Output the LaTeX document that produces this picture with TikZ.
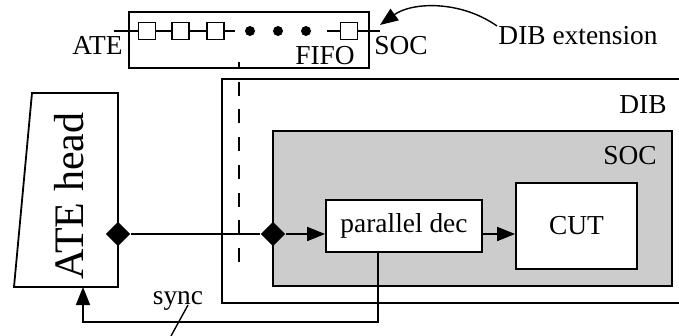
\documentclass[tikz,border=0pt]{standalone}
\usepackage{fontspec}
\setmainfont{Liberation Serif}
\usetikzlibrary{arrows.meta,shapes.geometric}
\begin{document}
\begin{tikzpicture}[x=1pt,y=-1pt,
  line width=1.8pt,
  lbl/.style={inner sep=0pt, font=\fontsize{27.4}{32}\selectfont},
  bigl/.style={inner sep=0pt, font=\fontsize{42}{46}\selectfont},
  box/.style={draw, inner sep=0pt, line width=1.8pt, font=\fontsize{27.4}{32}\selectfont},
  cell/.style={draw, minimum size=17pt, inner sep=0pt, line width=1.3pt, fill=white},
  dotnode/.style={circle, fill, minimum size=10pt, inner sep=0pt},
  junction/.style={diamond, fill, minimum size=25pt, inner sep=0pt},
  tip/.style={-{Triangle[length=18pt,width=14pt]}},
  thinl/.style={line width=1.4pt},
]
\useasboundingbox (0,0) rectangle (679,336);

% DIB board (open to the right)
\coordinate (dibtr) at (679,79);
\coordinate (dibtl) at (222,79);
\coordinate (dibbl) at (222,303);
\coordinate (dibbr) at (679,303);
\draw (dibtr) -- (dibtl) -- (dibbl) -- (dibbr);
\node[lbl, anchor=base] (diblbl) at (643,114) {DIB};

% SOC
\node[box, fill=black!20, minimum width=399pt, minimum height=155pt] (soc) at (472.5,208.5) {};
\node[lbl, anchor=base] (soclbl) at (630,165) {SOC};

% parallel dec and CUT
\node[box, fill=white, minimum width=156pt, minimum height=52pt] (pd) at (404,226) {parallel dec};
\node[box, fill=white, minimum width=121pt, minimum height=86pt] (cut) at (576.5,226) {CUT};

% FIFO extension
\node[box, thinl, minimum width=240pt, minimum height=56pt] (fifo) at (249,40) {};
\coordinate (fifol) at (114,31);
\node[cell] (c1) at (147,31) {};
\node[cell] (c2) at (180.5,31) {};
\node[cell] (c3) at (215.5,31) {};
\coordinate (c3r) at (235,31);
\node[dotnode] (k1) at (250,31) {};
\node[dotnode] (k2) at (278,31) {};
\node[dotnode] (k3) at (306,31) {};
\coordinate (c4l) at (327,31);
\node[cell] (c4) at (349,31) {};
\coordinate (fifor) at (380,31);
\draw[thinl] (fifol) -- (c1.west);
\draw[thinl] (c1.east) -- (c2.west);
\draw[thinl] (c2.east) -- (c3.west);
\draw[thinl] (c3.east) -- (c3r);
\draw[thinl] (c4l) -- (c4.west);
\draw[thinl] (c4.east) -- (fifor);
\node[lbl, anchor=base] (atel) at (97.5,55) {ATE};
\node[lbl, anchor=base] (fifol2) at (325,65) {FIFO};
\node[lbl, anchor=base] (socl2) at (401,55) {SOC};
\node[lbl, anchor=base] (ext) at (578,45) {DIB extension};
\coordinate (extstart) at (497,26);
\coordinate (exttip) at (380,25);
\draw[thinl, tip] (extstart) .. controls (460,0) and (412,2) .. (exttip);

% dashed boundary
\coordinate (dashtop) at (239,62);
\coordinate (dashbot) at (239,262);
\draw[thinl, dash pattern=on 14pt off 13.7pt] (dashbot) -- (dashtop);

% ATE head
\coordinate (h1) at (32,93);
\coordinate (h2) at (118,93);
\coordinate (h3) at (118,287);
\coordinate (h4) at (14,287);
\draw (h1) -- (h2) -- (h3) -- (h4) -- cycle;
\node[bigl, anchor=base, rotate=90] (atehead) at (83,196) {ATE head};

% junctions and connectors
\node[junction] (j1) at (118,234) {};
\node[junction] (j2) at (273,234) {};
\draw (j1) -- (j2);
\draw[tip] (j2) -- (j2 -| pd.west);
\draw[tip] (j2 -| pd.east) -- (j2 -| cut.west);

% sync
\coordinate (syncstart) at (378,252);
\coordinate (atebot) at (83,287);
\draw[tip] (syncstart) -- ++(0,70) -| (atebot);
\node[lbl, anchor=base] (sync) at (178,304) {sync};
\coordinate (leadtop) at (188,305);
\coordinate (leadbot) at (171,336);
\draw[thinl] (leadtop) -- (leadbot);
\end{tikzpicture}
\end{document}
